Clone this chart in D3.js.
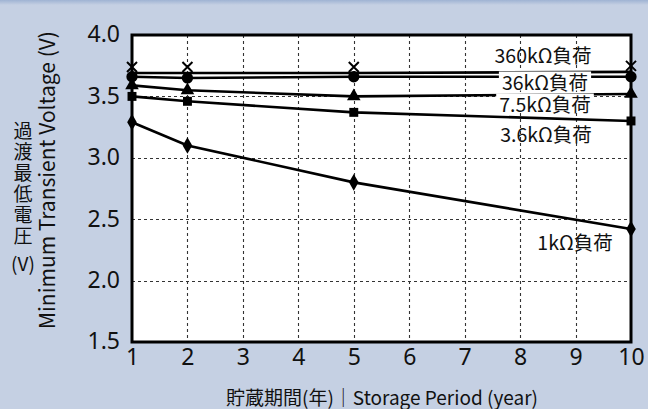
<!DOCTYPE html>
<html>
<head>
<meta charset="utf-8">
<script src="https://cdn.jsdelivr.net/npm/d3@7/dist/d3.min.js"></script>
<style>
  html, body { margin: 0; padding: 0; }
  body { width: 648px; height: 409px; overflow: hidden; background: #c5d0e3; }
  text { font-family: "Noto Sans CJK JP", "Noto Sans", sans-serif; fill: #111; }
</style>
</head>
<body>
<svg id="chart" width="648" height="409"></svg>
<script>
// Storage period in years
const years = [1, 2, 5, 10];
// Minimum transient voltage (V) per load resistance
const v360k = [3.69, 3.69, 3.69, 3.70];
const v36k  = [3.66, 3.65, 3.66, 3.66];
const v7k5  = [3.59, 3.55, 3.50, 3.52];
const v3k6  = [3.50, 3.46, 3.37, 3.30];
const v1k   = [3.29, 3.10, 2.80, 2.42];
const seriesNames = ["360kΩ負荷", "36kΩ負荷", "7.5kΩ負荷", "3.6kΩ負荷", "1kΩ負荷"];
const xTicks = [1, 2, 3, 4, 5, 6, 7, 8, 9, 10];
const yTicks = [1.5, 2.0, 2.5, 3.0, 3.5, 4.0];

const svg = d3.select("#chart");
const W = 648, H = 409;
const m = { left: 132, right: 17, top: 35, bottom: 67 };

// top band of the panel
const grad = svg.append("defs").append("linearGradient")
  .attr("id", "band").attr("x1", 0).attr("y1", 0).attr("x2", 0).attr("y2", 1);
grad.append("stop").attr("offset", 0).attr("stop-color", "#9fb3d3");
grad.append("stop").attr("offset", 1).attr("stop-color", "#c5d0e3");
svg.append("rect").attr("x", 0).attr("y", 0).attr("width", W).attr("height", 5)
  .attr("fill", "url(#band)");

const x = d3.scaleLinear().domain([1, 10]).range([m.left, W - m.right]);
const y = d3.scaleLinear().domain([1.5, 4.0]).range([H - m.bottom, m.top]);

// plot background
svg.append("rect")
  .attr("x", x(1)).attr("y", y(4)).attr("width", x(10) - x(1)).attr("height", y(1.5) - y(4))
  .attr("fill", "#fff");

// dashed grid
const grid = svg.append("g").attr("stroke", "#333").attr("stroke-width", 1.1)
  .attr("stroke-dasharray", "3,3");
grid.selectAll("line.v").data(xTicks.slice(1, -1)).join("line")
  .attr("x1", d => Math.round(x(d)) + 0.5).attr("x2", d => Math.round(x(d)) + 0.5)
  .attr("y1", y(4)).attr("y2", y(1.5));
grid.selectAll("line.h").data(yTicks.slice(1, -1)).join("line")
  .attr("y1", d => Math.round(y(d)) + 0.5).attr("y2", d => Math.round(y(d)) + 0.5)
  .attr("x1", x(1)).attr("x2", x(10));

// axes (labels only; frame drawn separately)
const xAxis = svg.append("g").attr("transform", `translate(0,${y(1.5)})`)
  .call(d3.axisBottom(x).tickValues(xTicks).tickFormat(d3.format("d")).tickSize(0).tickPadding(9));
const yAxis = svg.append("g").attr("transform", `translate(${x(1)},0)`)
  .call(d3.axisLeft(y).tickValues(yTicks).tickFormat(d3.format(".1f")).tickSize(0).tickPadding(12));
[xAxis, yAxis].forEach(a => {
  a.select(".domain").remove();
  a.attr("font-size", null).attr("font-family", null);
  a.selectAll("text").style("font-family", "'Noto Sans', sans-serif")
    .style("font-size", "23px").attr("fill", "#111");
});
xAxis.selectAll("text").attr("dy", "0.6em");
yAxis.selectAll("text").attr("dy", "0.3em");

// series lines and markers
const all = [v360k, v36k, v7k5, v3k6, v1k];
const line = d3.line().x((d, i) => x(years[i])).y(d => y(d));
all.forEach(vals => {
  svg.append("path").datum(vals).attr("d", line)
    .attr("fill", "none").attr("stroke", "#000").attr("stroke-width", 2.6);
});

const markerTypes = [null, d3.symbolCircle, d3.symbolTriangle, d3.symbolSquare, d3.symbolDiamond];
const markerSizes = [0, 100, 80, 80, 80];
all.forEach((vals, k) => {
  const g = svg.append("g");
  vals.forEach((v, i) => {
    const cx = x(years[i]), cy = y(v);
    if (k === 0) {
      // cross marker just above the line
      g.append("path")
        .attr("d", `M${cx - 5},${cy - 11}L${cx + 5},${cy - 1}M${cx + 5},${cy - 11}L${cx - 5},${cy - 1}`)
        .attr("fill", "none").attr("stroke", "#000").attr("stroke-width", 2);
    } else {
      g.append("path").attr("d", d3.symbol().type(markerTypes[k]).size(markerSizes[k])())
        .attr("transform", `translate(${cx},${cy})`).attr("fill", "#000");
    }
  });
});

// series labels
const labelPos = [
  { x: 543, y: 54, box: false },
  { x: 545, y: 81, box: true },
  { x: 545, y: 103, box: true },
  { x: 546, y: 133, box: false },
  { x: 575, y: 241, box: false }
];
seriesNames.forEach((name, k) => {
  const p = labelPos[k];
  const t = svg.append("text").attr("x", p.x).attr("y", p.y).attr("text-anchor", "middle")
    .attr("dominant-baseline", "central").style("font-size", "19.5px").text(name);
  if (p.box) {
    const b = t.node().getBBox();
    svg.insert("rect", () => t.node())
      .attr("x", b.x - 3).attr("y", b.y + 5).attr("width", b.width + 6).attr("height", b.height - 10)
      .attr("fill", "#fff");
  }
});

// plot frame
svg.append("rect")
  .attr("x", x(1)).attr("y", y(4)).attr("width", x(10) - x(1)).attr("height", y(1.5) - y(4))
  .attr("fill", "none").attr("stroke", "#000").attr("stroke-width", 3);

// axis titles
svg.append("text").attr("transform", `translate(46,180) rotate(-90)`)
  .attr("text-anchor", "middle").attr("dominant-baseline", "central")
  .style("font-size", "21px").text("Minimum Transient Voltage (V)");

// Japanese title set vertically, upright characters
svg.append("text").attr("x", 23).attr("y", 121)
  .style("writing-mode", "vertical-rl").style("text-orientation", "upright")
  .style("font-size", "19px").style("letter-spacing", "2px")
  .text("過渡最低電圧");
svg.append("text").attr("x", 23).attr("y", 262).attr("text-anchor", "middle")
  .attr("dominant-baseline", "central").style("font-size", "19px").text("(V)");

svg.append("text").attr("x", 382).attr("y", 396).attr("text-anchor", "middle")
  .attr("dominant-baseline", "central").style("font-size", "19px")
  .text("貯蔵期間(年)｜Storage Period (year)");
</script>
</body>
</html>
